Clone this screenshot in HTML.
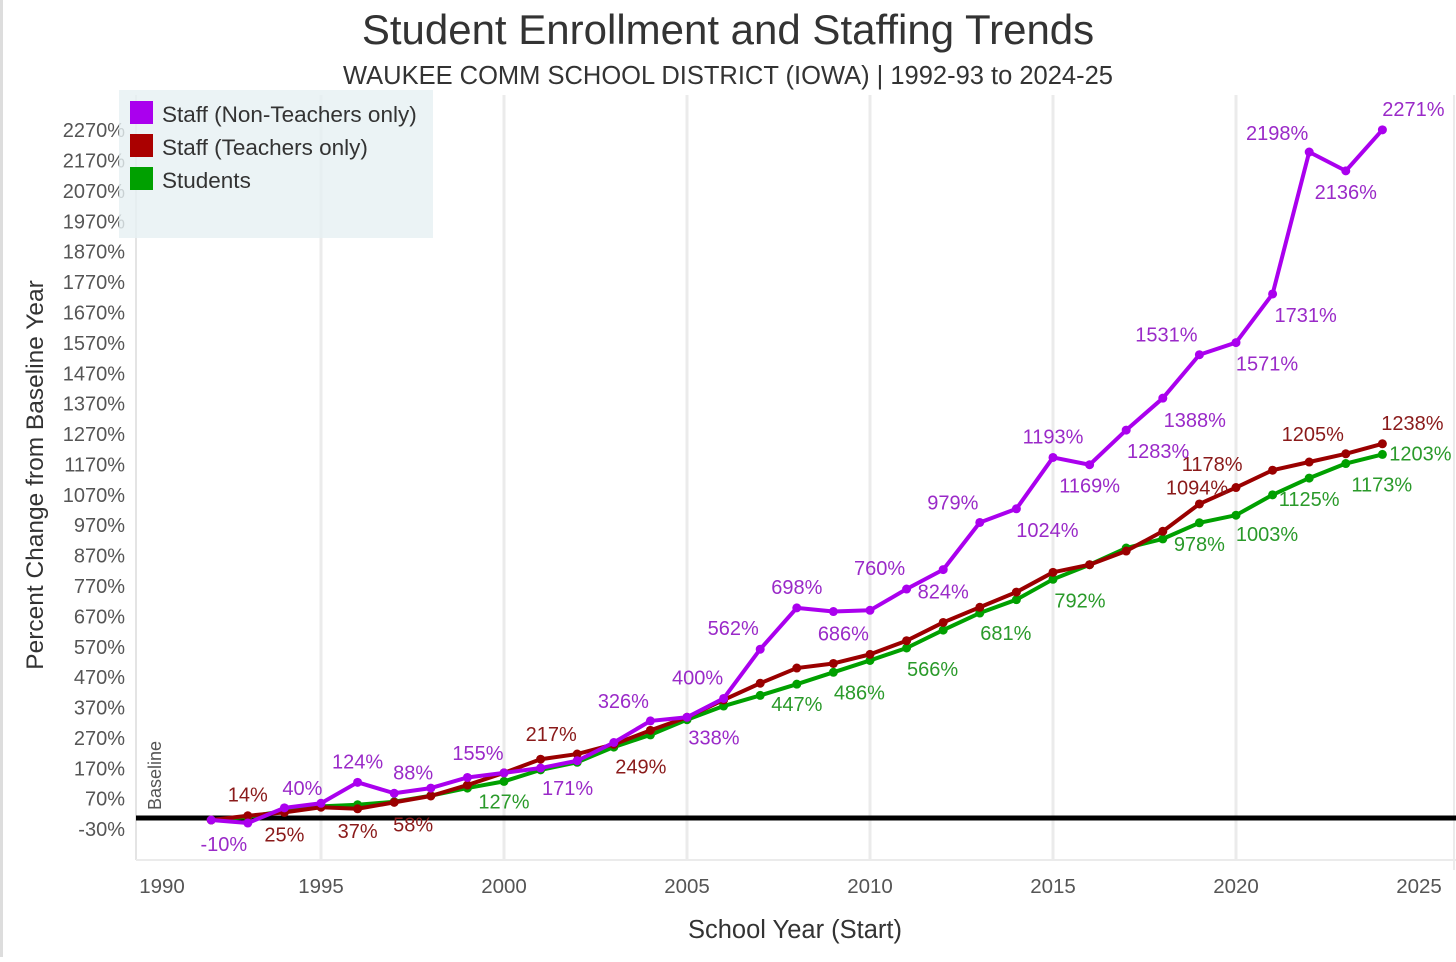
<!DOCTYPE html>
<html><head><meta charset="utf-8"><style>
body{margin:0;background:#fff;font-family:"Liberation Sans",sans-serif}
svg text{font-family:"Liberation Sans",sans-serif}
</style></head><body>
<svg id="c" width="1456" height="957" viewBox="0 0 1456 957">
<rect x="0" y="0" width="1456" height="957" fill="#fff"/>
<rect x="0" y="0" width="3" height="957" fill="#ddd"/>
<text x="728" y="44" text-anchor="middle" font-size="42" fill="#333">Student Enrollment and Staffing Trends</text>
<text x="728" y="84" text-anchor="middle" font-size="25.5" fill="#333">WAUKEE COMM SCHOOL DISTRICT (IOWA) | 1992-93 to 2024-25</text>
<g id="grid"></g>
<rect x="119" y="90" width="314" height="148" fill="#e6f0f3" opacity="0.8"/>
<g id="plot"></g>
<g>
<rect x="130" y="101" width="23" height="23" fill="#aa00ee"/>
<text x="162" y="122" font-size="22.5" fill="#333">Staff (Non-Teachers only)</text>
<rect x="130" y="134" width="23" height="23" fill="#aa0000"/>
<text x="162" y="155" font-size="22.5" fill="#333">Staff (Teachers only)</text>
<rect x="130" y="167" width="23" height="23" fill="#00a000"/>
<text x="162" y="188" font-size="22.5" fill="#333">Students</text>
</g>
<text transform="translate(43,475) rotate(-90)" text-anchor="middle" font-size="24.5" fill="#333">Percent Change from Baseline Year</text>
<text x="795" y="938" text-anchor="middle" font-size="25.5" fill="#333">School Year (Start)</text>
<text transform="translate(161,810) rotate(-90)" font-size="18" fill="#555">Baseline</text>
</svg>
<script>
const years=[1992,1993,1994,1995,1996,1997,1998,1999,2000,2001,2002,2003,2004,2005,2006,2007,2008,2009,2010,2011,2012,2013,2014,2015,2016,2017,2018,2019,2020,2021,2022,2023,2024];
const nonTeachers=[0,-10,40,55,124,88,105,140,155,171,195,255,326,338,400,562,698,686,690,760,824,979,1024,1193,1169,1283,1388,1531,1571,1731,2198,2136,2271];
const teachers=[0,14,25,42,37,58,79,115,155,200,217,249,295,338,395,450,500,515,545,590,650,700,750,815,840,885,950,1040,1094,1151,1178,1205,1238];
const students=[0,10,30,45,50,60,80,105,127,165,190,240,280,330,375,410,447,486,525,566,625,681,725,792,840,895,925,978,1003,1070,1125,1173,1203];
const yTicks=[-30,70,170,270,370,470,570,670,770,870,970,1070,1170,1270,1370,1470,1570,1670,1770,1870,1970,2070,2170,2270];
const xTicks=[1990,1995,2000,2005,2010,2015,2020,2025];
// labelled points: [yearIndex, dx, dy]
const ntLabels=[[1,-24,28],[2,18,-13],[4,0,-14],[5,19,-14],[8,-26,-13],[9,27,27],[12,-27,-13],[13,27,27],[14,-26,-14],[15,-27,-14],[16,0,-14],[17,10,29],[19,-27,-14],[20,0,29],[21,-27,-13],[22,31,28],[23,0,-14],[24,0,28],[25,32,28],[26,32,29],[27,-33,-13],[28,31,28],[29,33,28],[30,-32,-12],[31,0,28],[32,31,-14]];
const tLabels=[[1,0,-14],[2,0,29],[4,0,29],[5,19,29],[10,-26,-13],[11,27,29],[28,-39,7],[30,-97,9],[31,-33,-13],[32,30,-14]];
const sLabels=[[8,0,27],[16,0,27],[17,26,27],[19,26,28],[21,26,27],[23,27,28],[27,0,28],[28,31,26],[30,0,28],[31,36,28],[32,38,6]];
const X=y=>138+(y-1990)*36.6;
const Y=v=>820-v*0.3039;
const NS='http://www.w3.org/2000/svg';
function mk(t,a,p){const e=document.createElementNS(NS,t);for(const k in a)e.setAttribute(k,a[k]);p.appendChild(e);return e;}
const grid=document.getElementById('grid'),plot=document.getElementById('plot');
xTicks.forEach(t=>{
 if(t>1990&&t<2025){const l=mk('line',{x1:X(t),x2:X(t),y1:95,y2:860,stroke:'#ebebeb','stroke-width':3},grid);
 
 }
 const tx=mk('text',{x:t==1990?X(t)+24:X(t),y:893,'text-anchor':'middle','font-size':20.5,fill:'#555'},grid);tx.textContent=t;
 
 
});
mk('line',{x1:1454,x2:1454,y1:95,y2:870,stroke:'#ebebeb','stroke-width':2},grid);
mk('line',{x1:136,x2:136,y1:95,y2:860,stroke:'#e4e4e4','stroke-width':2},grid);
mk('line',{x1:136,x2:1456,y1:860,y2:860,stroke:'#ebebeb','stroke-width':2},grid);
yTicks.forEach(t=>{
 const tx=mk('text',{x:125,y:Y(t)+7,'text-anchor':'end','font-size':20,fill:'#555'},grid);tx.textContent=t+'%';
 
 
});
const bl=mk('line',{x1:136,x2:1456,y1:818,y2:818,stroke:'#000','stroke-width':5},plot);


function series(vals,color,lc,name,labels){
 const g=mk('g',{},plot);
 
 
 const pl=mk('polyline',{points:vals.map((v,i)=>X(years[i])+','+Y(v)).join(' '),fill:'none',stroke:color,'stroke-width':4,'stroke-linejoin':'round'},g);
 
 
 vals.forEach((v,i)=>{const c=mk('circle',{cx:X(years[i]),cy:Y(v),r:4.5,fill:color},g);
  
  });
 labels.forEach(([i,dx,dy])=>{const v=vals[i];
  const t=mk('text',{x:X(years[i])+dx,y:Y(v)+dy,'text-anchor':'middle','font-size':20,fill:lc},g);
  t.textContent=v+'%';
  
  });
}
series(students,'#00a000','#2a9a2a','students',sLabels);
series(teachers,'#9a0000','#8a1a1a','teachers',tLabels);
series(nonTeachers,'#aa00ee','#9a2ac8','non-teachers',ntLabels);
</script>
</body></html>
